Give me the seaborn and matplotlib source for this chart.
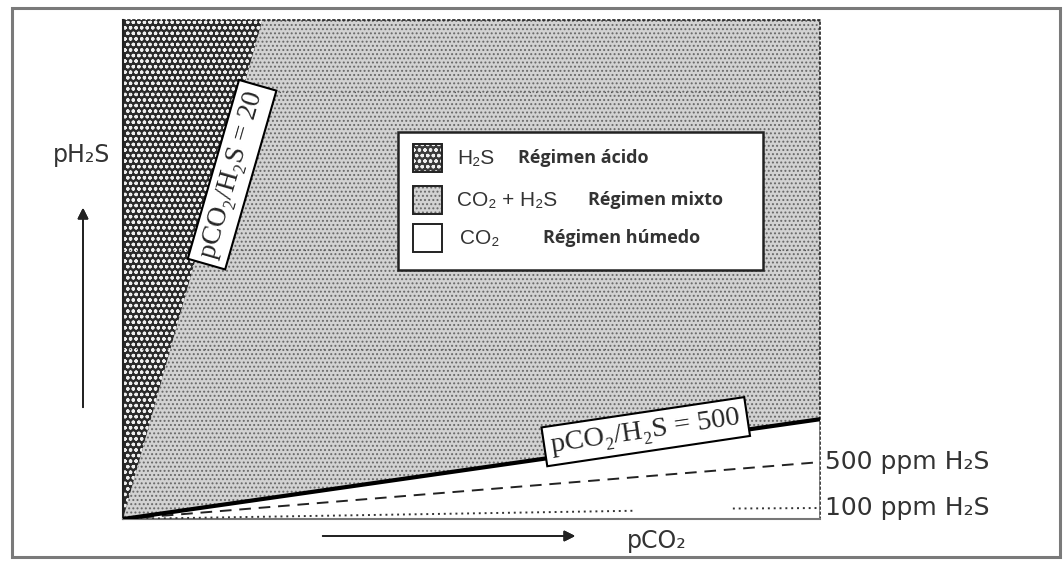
import numpy as np
import pandas as pd
import seaborn as sns
import matplotlib.pyplot as plt
from matplotlib.patches import Rectangle

# --- data (arbitrary units: pCO2 0..2000, pH2S 0..20) ---
x_lim = [0, 2000]
y_lim = [0, 20]

# ratio boundaries pCO2/pH2S = 20 and = 500
ratio20_x = [0, 400]
ratio20_y = [0, 20]
ratio500_x = [0, 2000]
ratio500_y = [0, 4.0]

# concentration lines
ppm500_x = [0, 2000]
ppm500_y = [0, 2.28]
ppm100_x1 = [0, 1465]
ppm100_y1 = [0, 0.33]
ppm100_x2 = [1750, 2000]
ppm100_y2 = [0.42, 0.44]

grid_y = [17.1, 10.8, 6.8]

legend_chem = ["H\u2082S", "CO\u2082 + H\u2082S", "CO\u2082"]
legend_regime = ["Régimen ácido", "Régimen mixto", "Régimen húmedo"]

sns.set_theme(style="white")
plt.rcParams["hatch.linewidth"] = 0.9

SANS = ["Liberation Sans", "DejaVu Sans"]
WIDE = ["DejaVu Sans"]
SERIF = ["Liberation Serif", "DejaVu Serif"]

fig = plt.figure(figsize=(10.64, 5.61), dpi=100)
ax = fig.add_axes([123 / 1064, 42 / 561, 697 / 1064, 499 / 561])

# regions
acid_poly_x = [ratio20_x[0], ratio20_x[1], x_lim[0]]
acid_poly_y = [ratio20_y[0], ratio20_y[1], y_lim[1]]
mixed_poly_x = [ratio20_x[0], ratio20_x[1], x_lim[1], ratio500_x[1]]
mixed_poly_y = [ratio20_y[0], ratio20_y[1], y_lim[1], ratio500_y[1]]

ax.fill(mixed_poly_x, mixed_poly_y, facecolor="#d2d2d2", edgecolor="#686868",
        hatch="....", linewidth=0, zorder=1)
ax.fill(acid_poly_x, acid_poly_y, facecolor="#2a2a2a", edgecolor="#eeeeee",
        hatch="ooo", linewidth=0, zorder=1)

# faint dotted grid rows visible through the texture
for gy in grid_y:
    ax.axhline(gy, color="#555555", lw=0.9, ls=(0, (1, 4)), zorder=2)

# boundary and concentration lines
sns.lineplot(x=ratio500_x, y=ratio500_y, ax=ax, color="black", lw=3.0, zorder=4)
sns.lineplot(x=ppm500_x, y=ppm500_y, ax=ax, color="#222222", lw=1.4,
             linestyle=(0, (6, 4)), zorder=3)
sns.lineplot(x=ppm100_x1, y=ppm100_y1, ax=ax, color="#333333", lw=1.4,
             linestyle=(0, (1, 2)), zorder=3)
sns.lineplot(x=ppm100_x2, y=ppm100_y2, ax=ax, color="#333333", lw=1.4,
             linestyle=(0, (1, 2)), zorder=3)
ax.plot([x_lim[1], x_lim[1]], [0, ratio500_y[1]], color="#777777", lw=1.2, zorder=3)

ax.set_xlim(x_lim)
ax.set_ylim(y_lim)
ax.set_xticks([])
ax.set_yticks([])
ax.set_xlabel("")
ax.set_ylabel("")
for s in ["top", "right"]:
    ax.spines[s].set_linestyle((0, (1, 2)))
    ax.spines[s].set_color("#222222")
    ax.spines[s].set_linewidth(1.2)
ax.spines["bottom"].set_color("#777777")
ax.spines["bottom"].set_linewidth(1.5)
ax.spines["left"].set_color("#222222")
ax.spines["left"].set_linewidth(1.5)

# ratio labels
box = dict(boxstyle="square,pad=0.25", fc="white", ec="black", lw=1.5)
ax.text(313, 13.8, "pCO\u2082/H\u2082S = 20", rotation=74, ha="center", va="center",
        fontsize=20, family=SERIF, bbox=box, zorder=6, rotation_mode="anchor")
ax.text(1500, 3.5, "pCO\u2082/H\u2082S = 500", rotation=8.5, ha="center", va="center",
        fontsize=20.5, family=SERIF, bbox=box, zorder=6, rotation_mode="anchor")

# legend box (axes fraction)
ax.add_patch(Rectangle((0.395, 0.499), 0.523, 0.277, transform=ax.transAxes,
                       facecolor="white", edgecolor="#222222", lw=1.8, zorder=7))
rows_y = [0.7234, 0.639, 0.563]
swatch_fc = ["#3a3a3a", "#d2d2d2", "white"]
swatch_ec = ["#eeeeee", "#686868", "white"]
swatch_hatch = ["ooo", "....", None]
regime_x = [0.567, 0.667, 0.602]
for i in range(3):
    ax.add_patch(Rectangle((0.416, rows_y[i] - 0.028), 0.042, 0.056,
                           transform=ax.transAxes, facecolor=swatch_fc[i],
                           edgecolor=swatch_ec[i], hatch=swatch_hatch[i],
                           lw=0, zorder=8))
    ax.add_patch(Rectangle((0.416, rows_y[i] - 0.028), 0.042, 0.056,
                           transform=ax.transAxes, facecolor="none",
                           edgecolor="#222222", lw=1.4, zorder=9))
    ax.text(0.479 if i < 2 else 0.483, rows_y[i], legend_chem[i], transform=ax.transAxes,
            ha="left", va="center", fontsize=15, family=SANS, color="#333333", zorder=9)
    ax.text(regime_x[i], rows_y[i], legend_regime[i], transform=ax.transAxes,
            ha="left", va="center", fontsize=13, family=["Open Sans", "DejaVu Sans"],
            fontweight="bold", color="#333333", zorder=9)

# concentration labels at right
ax.text(2015, ppm500_y[1], "500 ppm H\u2082S", ha="left", va="center", fontsize=18,
        family=WIDE, color="#333333", clip_on=False)
ax.text(2015, ppm100_y2[1], "100 ppm H\u2082S", ha="left", va="center", fontsize=18,
        family=WIDE, color="#333333", clip_on=False)

# axis arrows and labels in figure pixels
W, H = 1064, 561
fig.text(82 / W, 1 - 155 / H, "pH\u2082S", ha="center", va="center", fontsize=17,
         family=WIDE, color="#333333")
fig.add_artist(plt.annotate("", xy=(83 / W, 1 - 205 / H), xytext=(83 / W, 1 - 410 / H),
                            xycoords="figure fraction", textcoords="figure fraction",
                            arrowprops=dict(arrowstyle="-|>", color="#222222", lw=1.3,
                                            mutation_scale=16)))
fig.text(657 / W, 1 - 541 / H, "pCO\u2082", ha="center", va="center", fontsize=17,
         family=WIDE, color="#333333")
fig.add_artist(plt.annotate("", xy=(578 / W, 1 - 536 / H), xytext=(320 / W, 1 - 536 / H),
                            xycoords="figure fraction", textcoords="figure fraction",
                            arrowprops=dict(arrowstyle="-|>", color="#222222", lw=1.3,
                                            mutation_scale=16)))

# outer frame
fig.add_artist(Rectangle((12 / W, 4 / H), 1048 / W, 549 / H, transform=fig.transFigure,
                         facecolor="none", edgecolor="#7a7a7a", lw=2.2))

fig.savefig("out.png", dpi=100)
